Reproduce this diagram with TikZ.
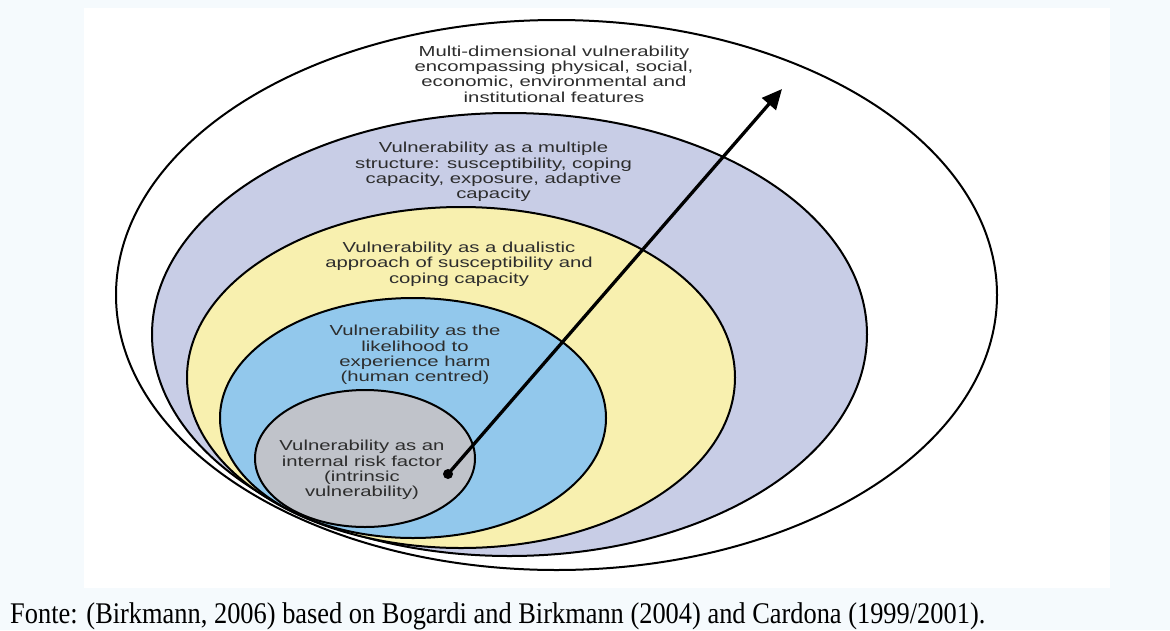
\documentclass[tikz,border=0pt]{standalone}
\usepackage{fontspec}
\setmainfont{Liberation Serif}
\newfontfamily\diagfont[FakeStretch=1.4]{Liberation Sans}
\newfontfamily\capfont[FakeStretch=0.88]{Liberation Serif}
\usetikzlibrary{arrows.meta}
\definecolor{pagebg}{RGB}{245,250,253}
\definecolor{lav}{RGB}{200,205,230}
\definecolor{yel}{RGB}{248,240,175}
\definecolor{sky}{RGB}{146,200,236}
\definecolor{greyf}{RGB}{192,195,202}
\definecolor{txt}{RGB}{45,45,45}
\begin{document}
\begin{tikzpicture}[x=1pt,y=-1pt,
  ring/.style={draw=black,line width=2pt},
  lbl/.style={font=\diagfont\fontsize{14.5}{15.3}\selectfont,text=txt,align=center,inner sep=0pt},
]
\fill[pagebg] (0,0) rectangle (1170,630);
\useasboundingbox (0,0) rectangle (1170,630);
\fill[white] (84,8) rectangle (1110,588);
\draw[ring,fill=white] (556.5,295) ellipse [x radius=440.5,y radius=275];
\draw[ring,fill=lav] (509.5,334.5) ellipse [x radius=357.5,y radius=221.5];
\draw[ring,fill=yel] (461,377.5) ellipse [x radius=274,y radius=170.5];
\draw[ring,fill=sky] (413,418) ellipse [x radius=193,y radius=120];
\draw[ring,fill=greyf] (365,458.5) ellipse [x radius=110,y radius=68.5];
\node[lbl] (t1) at (554,74) {Multi-dimensional vulnerability\\encompassing physical, social,\\economic, environmental and\\institutional features};
\node[lbl] (t2) at (493.5,172) {Vulnerability as a multiple\\structure: susceptibility, coping\\capacity, exposure, adaptive\\capacity};
\node[lbl] (t3) at (459,264) {Vulnerability as a dualistic\\approach of susceptibility and\\coping capacity};
\node[lbl] (t4) at (415,355) {Vulnerability as the\\likelihood to\\experience harm\\(human centred)};
\node[lbl] (t5) at (362,470) {Vulnerability as an\\internal risk factor\\(intrinsic\\vulnerability)};
\node[circle,fill=black,inner sep=0pt,minimum size=10pt] (dot) at (448,474) {};
\coordinate (tip) at (782,89);
\draw[line width=3.3pt,-{Triangle[length=20pt,width=18pt]}] (dot.center) -- (tip);
\node[anchor=base west,inner sep=0pt,font=\capfont\fontsize{30}{32}\selectfont] (cap) at (10,623) {Fonte: (Birkmann, 2006) based on Bogardi and Birkmann (2004) and Cardona (1999/2001).};
\end{tikzpicture}
\end{document}
